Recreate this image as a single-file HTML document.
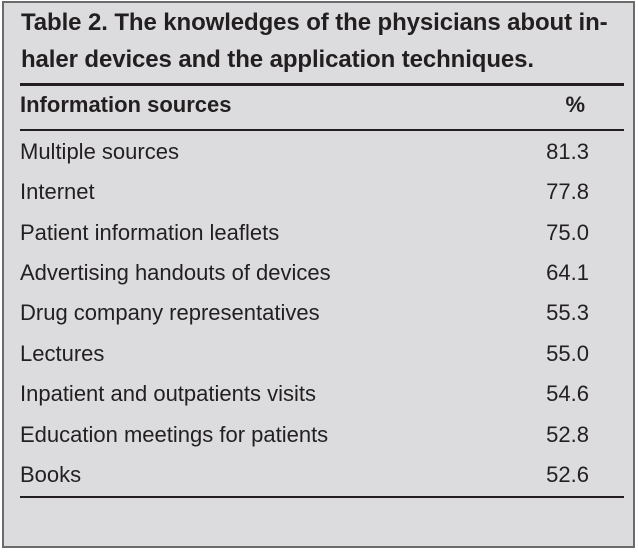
<!DOCTYPE html>
<html><head><style>
body{margin:0;width:638px;height:552px;background:#fff;font-family:"Liberation Sans",sans-serif;color:#231f20}
.box{position:absolute;left:2px;top:1px;width:629px;height:543px;border:2px solid #6b6b6b;background:#dcdcde}
.t{position:absolute;left:17px;font-size:24px;font-weight:bold;white-space:nowrap;letter-spacing:-0.1px}
.r{position:absolute;left:16px;right:0;font-size:22px;height:40px;line-height:40px}
.r span{position:absolute;right:44px}
.ln{position:absolute;left:16px;width:604px;background:#231f20}
</style></head><body>
<div class="box">
<div class="t" style="top:6px">Table 2. The knowledges of the physicians about in-</div>
<div class="t" style="top:43px">haler devices and the application techniques.</div>
<div class="ln" style="top:80px;height:3px"></div>
<div class="r" style="top:82px;font-weight:bold">Information sources<span style="right:48px">%</span></div>
<div class="ln" style="top:126px;height:2px"></div>
<div class="r" style="top:129px">Multiple sources<span>81.3</span></div>
<div class="r" style="top:169px">Internet<span>77.8</span></div>
<div class="r" style="top:210px">Patient information leaflets<span>75.0</span></div>
<div class="r" style="top:250px">Advertising handouts of devices<span>64.1</span></div>
<div class="r" style="top:290px">Drug company representatives<span>55.3</span></div>
<div class="r" style="top:331px">Lectures<span>55.0</span></div>
<div class="r" style="top:371px">Inpatient and outpatients visits<span>54.6</span></div>
<div class="r" style="top:412px">Education meetings for patients<span>52.8</span></div>
<div class="r" style="top:452px">Books<span>52.6</span></div>
<div class="ln" style="top:493px;height:2px"></div>
</div>
</body></html>
